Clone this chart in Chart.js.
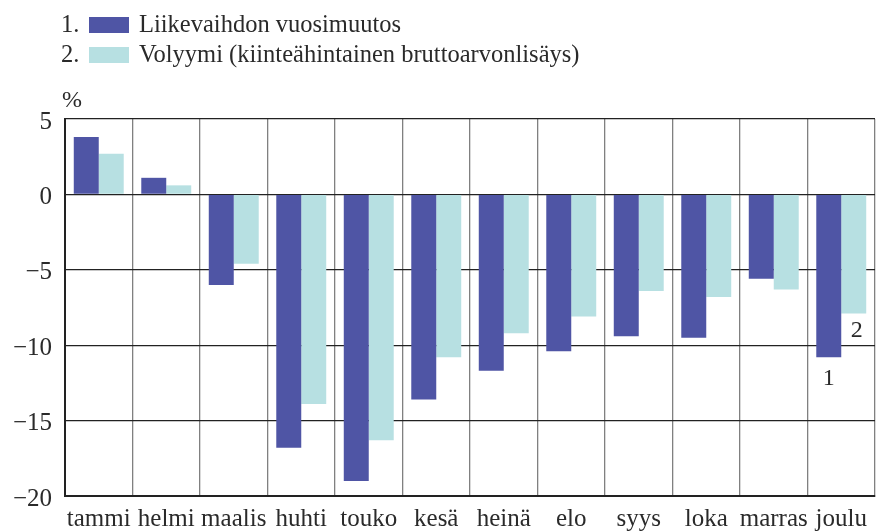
<!DOCTYPE html>
<html>
<head>
<meta charset="utf-8">
<script src="https://cdn.jsdelivr.net/npm/chart.js@4.4.0/dist/chart.umd.min.js"></script>
<style>
  html, body { margin: 0; padding: 0; background: #fff; }
  #wrap { width: 877px; height: 531px; position: relative; }
</style>
</head>
<body>
<div id="wrap"><canvas id="chart" width="877" height="531"></canvas></div>
<script>
const months = ["tammi", "helmi", "maalis", "huhti", "touko", "kesä", "heinä", "elo", "syys", "loka", "marras", "joulu"];
const turnover = [3.8, 1.1, -6.0, -16.8, -19.0, -13.6, -11.7, -10.4, -9.4, -9.5, -5.6, -10.8];
const volume = [2.7, 0.6, -4.6, -13.9, -16.3, -10.8, -9.2, -8.1, -6.4, -6.8, -6.3, -7.9];
const seriesNames = ["Liikevaihdon vuosimuutos", "Volyymi (kiinteähintainen bruttoarvonlisäys)"];
const yTicks = [5, 0, -5, -10, -15, -20];

const darkBlue = "#4f55a5";
const lightCyan = "#b7e0e2";
const fontFam = "'Liberation Serif', 'DejaVu Serif', serif";
const textCol = "#2a2a2a";

// legend, "%" label and the 1 / 2 markers under the last bars
const extras = {
  id: "extras",
  afterDraw(chart) {
    const ctx = chart.ctx;
    ctx.save();
    ctx.fillStyle = textCol;
    ctx.font = "24.5px " + fontFam;
    ctx.textBaseline = "alphabetic";
    const cols = [darkBlue, lightCyan];
    seriesNames.forEach((name, i) => {
      const y = 32 + i * 30;
      ctx.fillStyle = textCol;
      ctx.textAlign = "left";
      ctx.fillText((i + 1) + ".", 61, y);
      ctx.fillStyle = cols[i];
      ctx.fillRect(89, y - 15, 40, 16);
      ctx.fillStyle = textCol;
      ctx.fillText(name, 139, y);
    });
    ctx.font = "24px " + fontFam;
    ctx.fillText("%", 62, 107);

    // markers under december bars
    const last = months.length - 1;
    const b1 = chart.getDatasetMeta(0).data[last];
    const b2 = chart.getDatasetMeta(1).data[last];
    ctx.textAlign = "center";
    ctx.fillText("1", b1.x, b1.y + 28);
    ctx.fillText("2", b2.x + 3, b2.y + 23);
    ctx.restore();
  }
};

new Chart(document.getElementById("chart"), {
  type: "bar",
  data: {
    labels: months,
    datasets: [
      { label: seriesNames[0], data: turnover, backgroundColor: darkBlue, borderWidth: 0 },
      { label: seriesNames[1], data: volume, backgroundColor: lightCyan, borderWidth: 0 }
    ]
  },
  options: {
    responsive: false,
    animation: false,
    layout: { padding: { top: 119, right: 2, left: 0, bottom: 0 } },
    plugins: {
      legend: { display: false },
      tooltip: { enabled: false }
    },
    datasets: {
      bar: { categoryPercentage: 0.74, barPercentage: 1.0 }
    },
    scales: {
      x: {
        grid: { color: "#808080", lineWidth: 1.3, offset: true, drawTicks: false },
        border: { color: "#222", width: 2 },
        ticks: {
          color: textCol,
          font: { family: fontFam, size: 25 },
          padding: 8,
          maxRotation: 0,
          autoSkip: false
        },
        afterFit(scale) { scale.height = 35; }
      },
      y: {
        min: -20,
        max: 5,
        afterBuildTicks(scale) { scale.ticks = yTicks.map(v => ({ value: v })); },
        grid: { color: "#222", lineWidth: 1.3, drawTicks: false },
        border: { color: "#222", width: 2 },
        ticks: {
          color: textCol,
          font: { family: fontFam, size: 25 },
          padding: 13,
          labelOffset: 3,
          callback: v => String(v).replace("-", "\u2212")
        },
        afterFit(scale) { scale.width = 65; }
      }
    }
  },
  plugins: [extras]
});
</script>
</body>
</html>
